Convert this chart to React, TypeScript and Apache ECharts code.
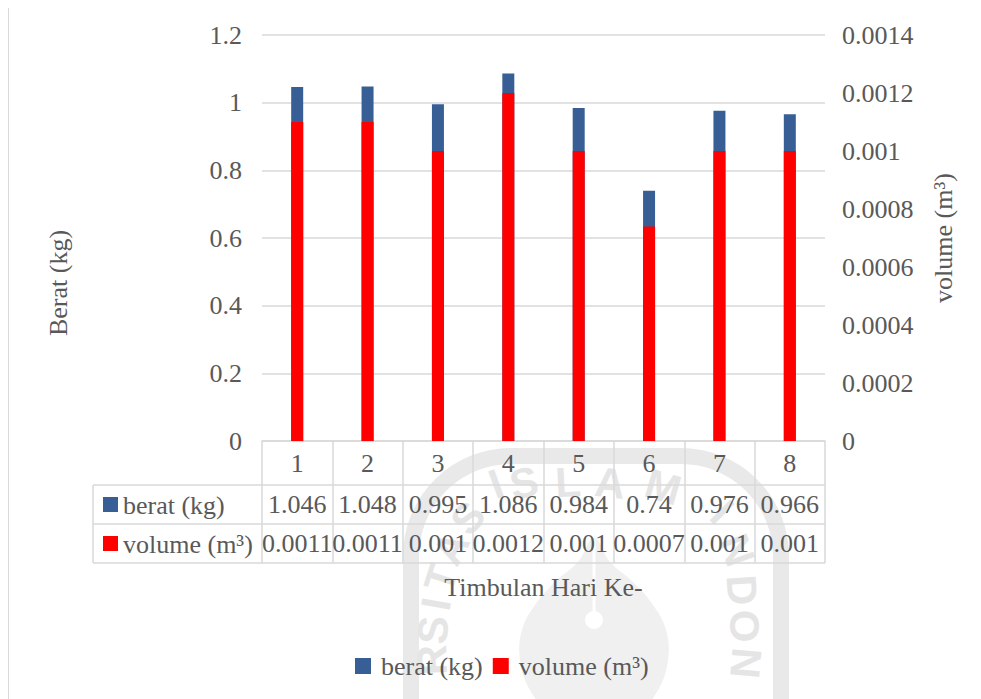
import React, { useEffect, useRef } from 'react';
import * as echarts from 'echarts';

// ---- data ----
const CATEGORIES = ['1', '2', '3', '4', '5', '6', '7', '8'];
const BERAT_KG = [1.046, 1.048, 0.995, 1.086, 0.984, 0.74, 0.976, 0.966];
const VOLUME_M3 = [0.0011, 0.0011, 0.001, 0.0012, 0.001, 0.00074, 0.001, 0.001];
const SERIES_NAMES = ['berat (kg)', 'volume (m³)'];
const LEFT_AXIS = { min: 0, max: 1.2, interval: 0.2 };
const RIGHT_AXIS = { min: 0, max: 0.0014, interval: 0.0002 };
const TITLE_LEFT = 'Berat (kg)';
const TITLE_RIGHT = 'volume (m³)';
const TITLE_BOTTOM = 'Timbulan Hari Ke-';

// ---- layout & style ----
const W = 981;
const H = 699;
const PLOT = { left: 262, right: 825, top: 35, bottom: 441 };
const ROW_HEIGHTS = [43, 39, 39]; // category row, berat row, volume row
const TABLE_LEFT = 93;
const FONT = 'Liberation Serif';
const TEXT = '#595959';
const LINE = '#d9d9d9';
const BLUE = '#375f96';
const RED = '#ff0000';
const FS = 26;
const WM_COLOR = '#e5e5e5';

// force the serif face on every chart text; the faint emblem letters stay sans
const CHART_CSS = `
.chart-root svg text { font-family: 'Liberation Serif', 'Times New Roman', serif !important; }
.chart-root svg text[fill="${WM_COLOR}"] { font-family: 'Liberation Sans', sans-serif !important; }
`;

const fmtVolume = (v: number) => String(Number(v.toFixed(4)));
const fmtBerat = (v: number) => String(v);

// table row boundaries below the category axis
const ROW_EDGES = (() => {
  const edges = [PLOT.bottom + 1];
  ROW_HEIGHTS.forEach((h) => edges.push(edges[edges.length - 1] + h));
  return edges;
})();
const TABLE_BOTTOM = ROW_EDGES[ROW_EDGES.length - 1];

// faint emblem watermark behind the lower part of the page
const WM_LETTERS: [string, number, number, number][] = [
  ['R', 432, 660, -92], ['S', 433, 630, -86], ['I', 436, 604, -80],
  ['T', 441, 578, -72], ['A', 451, 548, -62], ['S', 468, 518, -50],
  ['I', 496, 484, -20], ['S', 524, 483, -12], ['L', 568, 482, -3], ['A', 610, 483, 6], ['M', 663, 487, 16],
  ['I', 722, 512, 45], ['N', 737, 550, 70], ['D', 742, 590, 86], ['O', 744, 626, 90],
  ['N', 746, 663, 95],
];
// outline of the emblem's central drop
const WM_DROP: [number, number][] = [
  [594, 538], [578, 562], [555, 582], [535, 605], [522, 630], [520, 660], [530, 690], [550, 712],
  [594, 725], [638, 712], [658, 690], [668, 660], [666, 630], [653, 605], [633, 582], [610, 562],
];

const textStyle = (text: string, align: string) => ({
  text, fill: TEXT, fontSize: FS, fontFamily: FONT, align, verticalAlign: 'middle',
});

function buildGraphic() {
  const els: any[] = [];
  // data table grid lines
  ROW_EDGES.slice(1).forEach((y) => {
    els.push({
      type: 'line', silent: true,
      shape: { x1: TABLE_LEFT, y1: y, x2: PLOT.right, y2: y },
      style: { stroke: LINE, lineWidth: 1.5 },
    });
  });
  els.push({
    type: 'line', silent: true,
    shape: { x1: TABLE_LEFT, y1: ROW_EDGES[1], x2: TABLE_LEFT, y2: TABLE_BOTTOM },
    style: { stroke: LINE, lineWidth: 1.5 },
  });

  // series keys in the table's first column
  [BLUE, RED].forEach((color, i) => {
    const cy = (ROW_EDGES[i + 1] + ROW_EDGES[i + 2]) / 2;
    els.push({ type: 'rect', silent: true, shape: { x: TABLE_LEFT + 10, y: cy - 7.5, width: 15, height: 15 }, style: { fill: color } });
    els.push({ type: 'text', silent: true, x: TABLE_LEFT + 30, y: cy + 1, style: textStyle(SERIES_NAMES[i], 'left') });
  });

  // axis titles
  els.push({ type: 'text', silent: true, x: 58.5, y: 283, rotation: Math.PI / 2, style: textStyle(TITLE_LEFT, 'center') });
  els.push({
    type: 'text', silent: true, x: 943, y: (PLOT.top + PLOT.bottom) / 2, rotation: Math.PI / 2,
    style: textStyle(TITLE_RIGHT, 'center'),
  });
  els.push({ type: 'text', silent: true, x: (PLOT.left + PLOT.right) / 2, y: 587, style: textStyle(TITLE_BOTTOM, 'center') });

  // chart area border
  els.push({
    type: 'rect', silent: true, z: -2,
    shape: { x: 8.5, y: 5.5, width: 1200, height: 1200 },
    style: { fill: 'none', stroke: LINE, lineWidth: 1 },
  });
  // watermark
  els.push({
    type: 'rect', silent: true, z: -1,
    shape: { x: 411, y: 456, width: 370, height: 420, r: 100 },
    style: { fill: 'none', stroke: '#e9e9e9', lineWidth: 16 },
  });
  els.push({ type: 'polygon', silent: true, z: -1, shape: { points: WM_DROP, smooth: 0.4 }, style: { fill: '#f0f0f0' } });
  els.push({ type: 'rect', silent: true, z: -1, shape: { x: 592.5, y: 540, width: 3, height: 72 }, style: { fill: '#ffffff' } });
  els.push({ type: 'circle', silent: true, z: -1, shape: { cx: 594, cy: 620, r: 9 }, style: { fill: '#ffffff' } });
  WM_LETTERS.forEach(([ch, x, y, deg]) => {
    els.push({
      type: 'text', silent: true, z: -1, x, y, rotation: (-deg * Math.PI) / 180,
      style: {
        text: ch, fill: WM_COLOR, fontSize: 42, fontWeight: 'bold',
        fontFamily: 'Liberation Sans', align: 'center', verticalAlign: 'middle',
      },
    });
  });
  return els;
}

function buildOption(): any {
  const labelText = { fontSize: FS, fontFamily: FONT, color: TEXT };
  return {
    animation: false,
    backgroundColor: '#ffffff',
    textStyle: { fontFamily: FONT },
    grid: {
      left: PLOT.left, right: W - PLOT.right, top: PLOT.top, bottom: H - PLOT.bottom,
      containLabel: false, outerBoundsMode: 'none',
    },
    legend: {
      data: SERIES_NAMES, left: 350, top: 646, icon: 'rect',
      itemWidth: 16, itemHeight: 16, itemGap: 10,
      textStyle: { ...labelText, lineHeight: 30, padding: [0, 0, 0, 5] },
    },
    xAxis: {
      type: 'category', data: CATEGORIES, boundaryGap: true,
      axisLine: { show: true, lineStyle: { color: LINE, width: 1.5 } },
      axisTick: { show: true, alignWithLabel: false, length: TABLE_BOTTOM - PLOT.bottom, lineStyle: { color: LINE, width: 1.5 } },
      splitLine: { show: false },
      axisLabel: {
        interval: 0, margin: 1, hideOverlap: false,
        formatter: (val: string, idx: number) =>
          `{c|${val}}\n{b|${fmtBerat(BERAT_KG[idx])}}\n{v|${fmtVolume(VOLUME_M3[idx])}}`,
        rich: {
          c: { ...labelText, lineHeight: ROW_HEIGHTS[0] },
          b: { ...labelText, lineHeight: ROW_HEIGHTS[1] },
          v: { ...labelText, lineHeight: ROW_HEIGHTS[2] },
        },
      },
    },
    yAxis: [
      {
        type: 'value', position: 'left', ...LEFT_AXIS,
        axisLine: { show: false }, axisTick: { show: false },
        splitLine: { show: true, lineStyle: { color: LINE, width: 1.5 } },
        axisLabel: { ...labelText, margin: 20, formatter: (v: number) => String(Number(v.toFixed(1))) },
      },
      {
        type: 'value', position: 'right', ...RIGHT_AXIS,
        axisLine: { show: false }, axisTick: { show: false }, splitLine: { show: false },
        axisLabel: { ...labelText, margin: 17, align: 'left', formatter: (v: number) => fmtVolume(v) },
      },
    ],
    series: [
      {
        name: SERIES_NAMES[0], type: 'bar', yAxisIndex: 0, data: BERAT_KG,
        barWidth: 12, barGap: '-100%', itemStyle: { color: BLUE },
      },
      {
        name: SERIES_NAMES[1], type: 'bar', yAxisIndex: 1, data: VOLUME_M3,
        barWidth: 12, barGap: '-100%', itemStyle: { color: RED },
      },
    ],
    graphic: { elements: buildGraphic() },
  };
}

export default function App() {
  const ref = useRef<HTMLDivElement>(null);
  useEffect(() => {
    if (!ref.current) return;
    const chart = echarts.init(ref.current, undefined, { renderer: 'svg' });
    chart.setOption(buildOption());
    return () => chart.dispose();
  }, []);
  return (
    <div className="chart-root" style={{ position: 'relative', margin: '-8px 0 0 -8px', width: W, height: H }}>
      <style>{CHART_CSS}</style>
      <div ref={ref} style={{ width: W, height: H, background: '#ffffff' }} />
    </div>
  );
}
